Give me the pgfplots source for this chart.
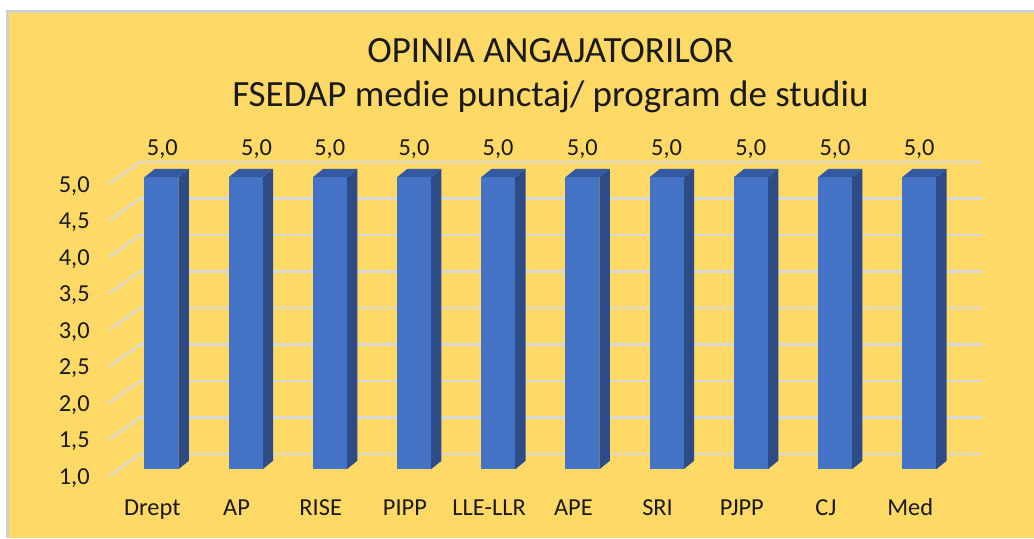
\documentclass[border=0pt]{standalone}
\usepackage{fontspec}
\setmainfont{Carlito}
\usepackage{pgfplots}
\usepackage{pgfplotstable}
\pgfplotsset{compat=1.18}

\definecolor{bgyellow}{HTML}{FFD966}
\definecolor{framegray}{HTML}{D0D0D0}
\definecolor{gridc}{HTML}{D9D9D9}
\definecolor{barfront}{HTML}{4472C4}
\definecolor{bartop}{HTML}{3259A2}
\definecolor{barside}{HTML}{2C4B87}
\definecolor{txt}{HTML}{1A1A1A}

% medie punctaj per program de studiu (lx = label shift in pt)
\pgfplotstableread{
i lab     v   lx
0 Drept   5.0 0.5
1 AP      5.0 5.5
2 RISE    5.0 0
3 PIPP    5.0 0
4 LLE-LLR 5.0 0
5 APE     5.0 0
6 SRI     5.0 0
7 PJPP    5.0 0
8 CJ      5.0 0
9 Med     5.0 0
}\scores

% 3D column: front face, top and right side, from the data point down to ymin
\pgfdeclareplotmark{col3d}{%
  \pgfplotspointaxisxy{0}{1}\pgfgetlastxy{\colx}{\colbase}%
  \pgfplotspointaxisxy{0}{\barval}\pgfgetlastxy{\colx}{\coltop}%
  \pgfmathsetmacro\colh{\coltop-\colbase}%
  \pgfsetfillcolor{barside}%
  \pgfpathmoveto{\pgfqpoint{8.5pt}{0pt}}%
  \pgfpathlineto{\pgfqpoint{13.75pt}{4.25pt}}%
  \pgfpathlineto{\pgfpoint{13.75pt}{4.25pt-\colh pt}}%
  \pgfpathlineto{\pgfpoint{8.5pt}{-\colh pt}}%
  \pgfpathclose
  \pgfusepath{fill}%
  \pgfsetfillcolor{bartop}%
  \pgfpathmoveto{\pgfqpoint{-8.5pt}{0pt}}%
  \pgfpathlineto{\pgfqpoint{8.5pt}{0pt}}%
  \pgfpathlineto{\pgfqpoint{13.75pt}{4.25pt}}%
  \pgfpathlineto{\pgfqpoint{-3.25pt}{4.25pt}}%
  \pgfpathclose
  \pgfusepath{fill}%
  \pgfsetfillcolor{barfront}%
  \pgfpathrectanglecorners{\pgfqpoint{-8.5pt}{0pt}}{\pgfpoint{8.5pt}{-\colh pt}}%
  \pgfusepath{fill}%
}

\begin{document}
\begin{tikzpicture}
\fill[white] (-59.625pt,-34.35pt) rectangle (457.375pt,234.65pt);
\fill[framegray] (-56.375pt,-34.35pt) rectangle (457.375pt,229.65pt);
\fill[bgyellow] (-55.125pt,-34.35pt) rectangle (457.375pt,228.4pt);
\useasboundingbox (-59.625pt,-34.35pt) rectangle (457.375pt,234.65pt);

\begin{axis}[
    at={(0,0)}, anchor=south west,
    scale only axis,
    width=421pt, height=146pt,
    xmin=-0.5, xmax=9.5,
    ymin=1, ymax=5,
    enlargelimits=false,
    clip=false,
    axis line style={draw=none},
    major tick length=0pt,
    xtick={0,...,9},
    xticklabels from table={\scores}{lab},
    ytick={1,1.5,2,2.5,3,3.5,4,4.5,5},
    ymajorgrids,
    major grid style={gridc, line width=1.1pt, xshift=10.375pt, yshift=7.625pt},
    /pgf/number format/.cd, fixed, fixed zerofill, precision=1, use comma,
        assume math mode=true,
    /pgfplots/.cd,
    tick label style={font=\fontsize{12.2}{14}\selectfont, text=txt},
    yticklabel style={anchor=base east, inner sep=0pt, xshift=-14.6pt, yshift=-7.5pt},
    xticklabel style={anchor=base, inner sep=0pt, xshift=-4.5pt, yshift=-22.85pt},
]
\pgfplotsinvokeforeach{1,1.5,2,2.5,3,3.5,4,4.5,5}{
  \draw[gridc, line width=1.1pt]
    ([shift={(-5.125pt,-3.375pt)}]axis cs:-0.5,#1) --
    ([shift={(10.375pt,7.625pt)}]axis cs:-0.5,#1);
}
\addplot[
    only marks, mark=col3d,
    visualization depends on={\thisrow{v} \as \barval},
    visualization depends on={\thisrow{lx} \as \labdx},
    nodes near coords,
    every node near coord/.append style={
        font=\fontsize{12.2}{14}\selectfont, text=txt,
        anchor=base, inner sep=0pt, yshift=11.15pt, xshift=\labdx pt},
] table[x=i, y=v] {\scores};
\end{axis}

\node[font=\fontsize{18.5}{22}\selectfont, text=txt, anchor=base]
  at (215.6pt,203.65pt) {OPINIA ANGAJATORILOR};
\node[font=\fontsize{18.5}{22}\selectfont, text=txt, anchor=base]
  at (215.6pt,181.65pt) {FSEDAP medie punctaj/ program de studiu};
\end{tikzpicture}
\end{document}
